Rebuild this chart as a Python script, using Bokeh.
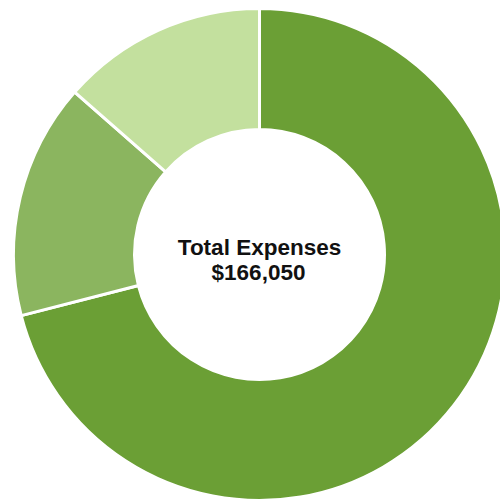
import math
from bokeh.plotting import figure
from bokeh.models import ColumnDataSource, Range1d
from bokeh.core.properties import value
from bokeh.embed import file_html
from bokeh.resources import INLINE

categories = ["Program Services", "Management & General", "Fundraising"]
amounts = [117900, 25690, 22460]
colors = ["#6b9f35", "#8bb55f", "#c3e09e"]
title_label = "Total Expenses"

total = sum(amounts)
W = H = 500
p = figure(width=W, height=H, output_backend="svg", toolbar_location=None,
           x_range=Range1d(0, W), y_range=Range1d(0, H), min_border=0,
           outline_line_color=None, background_fill_color="white")
p.axis.visible = False
p.grid.visible = False

cx, cy = 259, 246
starts, ends = [], []
acc = 0
for a in amounts:
    t1 = acc / total * 2 * math.pi
    acc += a
    t2 = acc / total * 2 * math.pi
    starts.append(math.pi / 2 - t2)
    ends.append(math.pi / 2 - t1)

src = ColumnDataSource(dict(cat=categories, amt=amounts, color=colors,
                            start=starts, end=ends))
p.annular_wedge(x=cx, y=cy, inner_radius=125, outer_radius=246,
                start_angle="start", end_angle="end", fill_color="color",
                line_color="white", line_width=3, source=src)

p.text(x=[cx, cx - 1], y=[cy + 7, cy - 18],
       text=[title_label, "${:,}".format(total)],
       text_font=value("Liberation Sans"), text_font_style="bold",
       text_font_size="22.5px", text_color="#111111",
       text_align="center", text_baseline="middle")

open("out.html", "w").write(file_html(p, INLINE))
